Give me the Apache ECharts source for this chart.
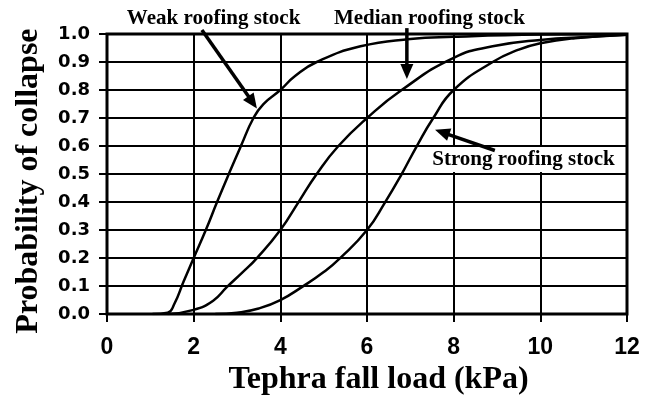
<!DOCTYPE html>
<html>
<head>
<meta charset="utf-8">
<script src="https://cdn.jsdelivr.net/npm/echarts@6/dist/echarts.min.js"></script>
<style>
  html, body { margin: 0; padding: 0; background: #fff; }
  #chart { width: 653px; height: 401px; }
</style>
</head>
<body>
<div id="chart"></div>
<script>
// tephra load (kPa) vs probability of collapse
const weakX = [1.05, 1.4, 1.55, 1.77, 2.0, 2.28, 2.54, 2.81, 3.09, 3.38, 3.61, 4.0, 4.34, 4.84, 5.85, 7.0, 8.0, 10, 12];
const weakY = [0, 0.005, 0.035, 0.117, 0.2, 0.3, 0.4, 0.5, 0.6, 0.7, 0.75, 0.8, 0.85, 0.9, 0.956, 0.982, 0.99, 0.998, 1.0];

const medianX = [1.4, 2.0, 2.45, 2.77, 3.12, 3.46, 4.0, 4.42, 4.84, 5.34, 6.0, 6.8, 8.0, 8.9, 10, 11.2, 12];
const medianY = [0, 0.015, 0.048, 0.097, 0.148, 0.2, 0.3, 0.4, 0.5, 0.6, 0.7, 0.8, 0.915, 0.956, 0.979, 0.99, 0.997];

const strongX = [2.5, 3.0, 3.5, 4.0, 4.53, 5.0, 5.38, 6.0, 6.42, 6.8, 7.15, 7.53, 8.0, 8.9, 9.5, 10, 10.8, 12];
const strongY = [0, 0.005, 0.02, 0.05, 0.1, 0.15, 0.2, 0.3, 0.4, 0.5, 0.6, 0.7, 0.8, 0.9, 0.944, 0.967, 0.985, 0.997];

// annotations (data units): label centre, arrow tail, arrow tip
const noteNames = ['Weak roofing stock', 'Median roofing stock', 'Strong roofing stock'];
const noteLabel = [[2.46, 1.056], [7.44, 1.056], [9.61, 0.552]];
const noteFrom = [[2.19, 1.014], [6.92, 1.021], [8.95, 0.584]];
const noteTo = [[3.46, 0.734], [6.92, 0.839], [7.57, 0.658]];

function pairs(xs, ys) {
  return xs.map((x, i) => [x, ys[i]]);
}

const chart = echarts.init(document.getElementById('chart'));

function renderNote(params, api) {
  const i = api.value(6);
  const lp = api.coord([api.value(0), api.value(1)]);
  const a = api.coord([api.value(2), api.value(3)]);
  const b = api.coord([api.value(4), api.value(5)]);
  const dx = b[0] - a[0], dy = b[1] - a[1];
  const len = Math.sqrt(dx * dx + dy * dy);
  const ux = dx / len, uy = dy / len;
  const headLen = 15, headW = 6.5;
  const base = [b[0] - ux * headLen, b[1] - uy * headLen];
  return {
    type: 'group',
    children: [
      {
        type: 'text',
        style: {
          text: noteNames[i],
          x: lp[0], y: lp[1],
          align: 'center', verticalAlign: 'middle',
          font: 'bold 21px "Liberation Serif"',
          fill: '#000',
          backgroundColor: i === 2 ? '#fff' : 'transparent',
          padding: [2, 5]
        }
      },
      {
        type: 'line',
        shape: {x1: a[0], y1: a[1], x2: base[0] + ux * 2, y2: base[1] + uy * 2},
        style: {stroke: '#000', lineWidth: 3.5}
      },
      {
        type: 'polygon',
        shape: {
          points: [
            b,
            [base[0] - uy * headW, base[1] + ux * headW],
            [base[0] + uy * headW, base[1] - ux * headW]
          ]
        },
        style: {fill: '#000'}
      }
    ]
  };
}

const curveStyle = {
  type: 'line',
  smooth: 0.5,
  showSymbol: false,
  symbol: 'none',
  lineStyle: {color: '#000', width: 2.5},
  z: 3
};

let option = {
  animation: false,
  backgroundColor: '#fff',
  grid: {
    left: 107, right: 26, top: 34, bottom: 81,
    show: true, borderColor: '#000', borderWidth: 3
  },
  xAxis: {
    type: 'value',
    min: 0, max: 12, interval: 2,
    name: 'Tephra fall load (kPa)',
    nameLocation: 'middle',
    nameGap: 49,
    nameTextStyle: {
      fontFamily: 'Liberation Serif', fontWeight: 'bold', fontSize: 32, color: '#000',
      padding: [0, 0, 0, 23]
    },
    axisLine: {show: true, lineStyle: {color: '#000', width: 2}},
    axisTick: {show: true, length: 8, lineStyle: {color: '#000', width: 2}},
    axisLabel: {
      fontFamily: 'Liberation Sans', fontWeight: 'bold', fontSize: 23, color: '#000', margin: 22
    },
    splitLine: {show: true, lineStyle: {color: '#000', width: 2}}
  },
  yAxis: {
    type: 'value',
    min: 0, max: 1, interval: 0.1,
    name: 'Probability of collapse',
    nameLocation: 'middle',
    nameGap: 62,
    nameTextStyle: {
      fontFamily: 'Liberation Serif', fontWeight: 'bold', fontSize: 32, color: '#000',
      padding: [0, 14, 0, 0]
    },
    axisLine: {show: true, lineStyle: {color: '#000', width: 2}},
    axisTick: {show: true, length: 8, lineStyle: {color: '#000', width: 2}},
    axisLabel: {
      fontFamily: 'DejaVu Sans', fontWeight: 'bold', fontSize: 18, color: '#000', margin: 17,
      formatter: v => v.toFixed(1)
    },
    splitLine: {show: true, lineStyle: {color: '#000', width: 2}}
  },
  series: [
    Object.assign({name: 'Weak', data: pairs(weakX, weakY)}, curveStyle),
    Object.assign({name: 'Median', data: pairs(medianX, medianY)}, curveStyle),
    Object.assign({name: 'Strong', data: pairs(strongX, strongY)}, curveStyle),
    {
      type: 'custom',
      name: 'notes',
      clip: false,
      silent: true,
      z: 5,
      renderItem: renderNote,
      data: noteNames.map((n, i) => [
        noteLabel[i][0], noteLabel[i][1],
        noteFrom[i][0], noteFrom[i][1],
        noteTo[i][0], noteTo[i][1], i
      ])
    }
  ]
};

chart.setOption(option);
</script>
</body>
</html>
